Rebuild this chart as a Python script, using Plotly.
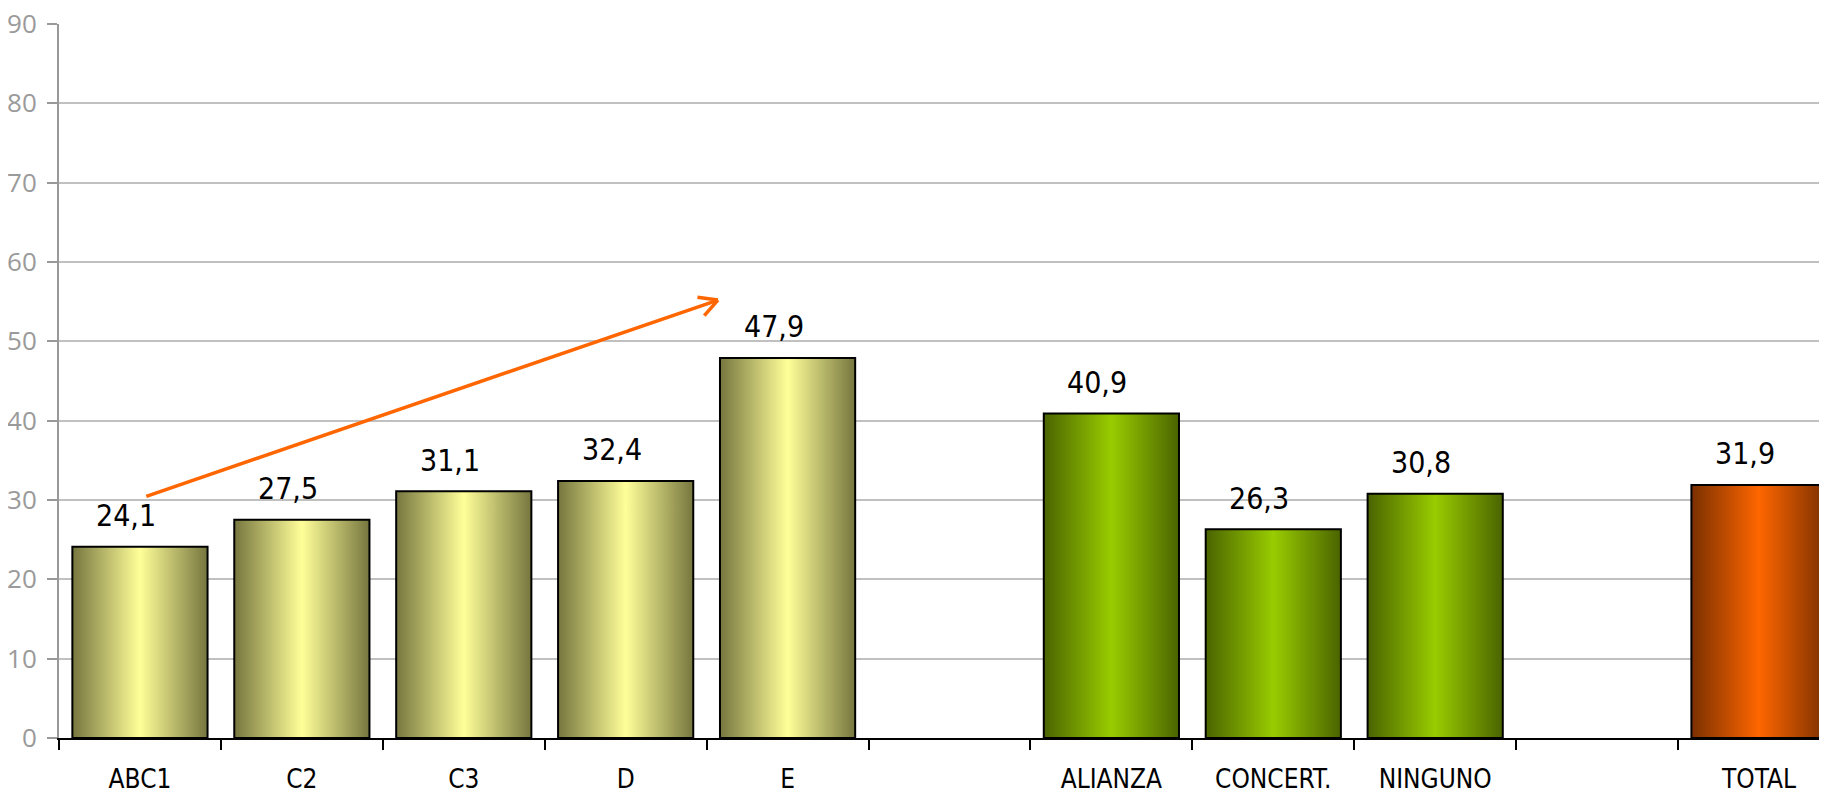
import plotly.graph_objects as go

# categories (empty strings are the gaps between groups)
categories = ["ABC1", "C2", "C3", "D", "E", "", "ALIANZA", "CONCERT.", "NINGUNO", "", "TOTAL"]
values = [24.1, 27.5, 31.1, 32.4, 47.9, None, 40.9, 26.3, 30.8, None, 31.9]
groups = ["nse", "nse", "nse", "nse", "nse", None, "pol", "pol", "pol", None, "total"]

# gradient colours per group: edge, centre
palette = {
    "nse": ("#76763f", "#ffff99"),
    "pol": ("#4a6400", "#99cc00"),
    "total": ("#7a3000", "#ff6600"),
}

bar_width = 0.835
label_font = "DejaVu Sans Condensed"
arrow_color = "#ff6600"

fig = go.Figure()

for i, (v, g) in enumerate(zip(values, groups)):
    if v is None:
        continue
    dark, light = palette[g]
    x0, x1 = i - bar_width / 2, i + bar_width / 2
    fig.add_trace(go.Scatter(
        x=[x0, x1, x1, x0, x0],
        y=[0, 0, v, v, 0],
        mode="lines",
        fill="toself",
        fillgradient=dict(type="horizontal",
                          colorscale=[[0, dark], [0.5, light], [1, dark]]),
        line=dict(color="black", width=2),
        hoverinfo="skip",
        showlegend=False,
    ))
    fig.add_annotation(
        x=i, y=v, xref="x", yref="y",
        text=f"{v:.1f}".replace(".", ","),
        showarrow=False, yanchor="middle", yshift=31, xshift=-14,
        font=dict(family=label_font, size=30, color="black"),
    )

# trend arrow over the socio-economic groups: shaft plus an open chevron head
tip_x, tip_y = 3.57, 55.2
fig.add_annotation(
    x=tip_x, y=tip_y, ax=0.03, ay=30.4,
    xref="x", yref="y", axref="x", ayref="y",
    text="", showarrow=True, arrowhead=0, arrowwidth=3.5,
    arrowcolor=arrow_color,
)
for dx, dy in [(-22, -3), (-15, 17)]:
    fig.add_annotation(
        x=tip_x, y=tip_y, ax=dx, ay=dy,
        xref="x", yref="y",
        text="", showarrow=True, arrowhead=0, arrowwidth=3.5,
        arrowcolor=arrow_color,
    )

# the page body adds an 8px offset, so the figure is sized to fit the window
fig.update_layout(
    width=1819, height=782,
    margin=dict(l=51, r=0, t=16, b=52),
    paper_bgcolor="white", plot_bgcolor="white",
    showlegend=False,
)

fig.update_xaxes(
    range=[-0.5, 10.42],
    automargin=False,
    tickvals=list(range(len(categories))),
    ticktext=categories,
    ticks="",
    ticklabelstandoff=17,
    tickfont=dict(family=label_font, size=26, color="black"),
    showgrid=False, zeroline=False,
    showline=True, linecolor="black", linewidth=2,
    minor=dict(tickvals=[k - 0.5 for k in range(len(categories) + 1)],
               ticks="outside", ticklen=10, tickcolor="black", tickwidth=2, showgrid=False),
)

fig.update_yaxes(
    range=[0, 90],
    automargin=False,
    ticklabeloverflow="allow",
    dtick=10,
    ticks="outside", ticklen=10, tickcolor="#999999", tickwidth=2,
    ticklabelstandoff=5,
    tickfont=dict(family="Open Sans", size=26, color="#9a9a9a"),
    showgrid=True, gridcolor="#c0c0c0", gridwidth=2,
    zeroline=False,
    showline=True, linecolor="#999999", linewidth=2,
)

fig.write_html("out.html")
